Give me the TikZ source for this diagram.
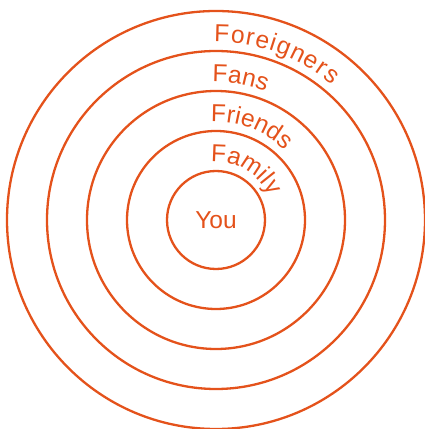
\documentclass[tikz,border=0pt]{standalone}
\usepackage{fontspec}
\setmainfont{Liberation Sans}
\usetikzlibrary{decorations.text}
\definecolor{oc}{HTML}{E4521B}
\begin{document}
\begin{tikzpicture}[x=1pt,y=1pt,
  ring/.style={draw=oc, line width=2.3pt, circle, inner sep=0pt},
  arclabel/.style 2 args={decorate, decoration={text along path, text color=oc,
     text={|\fontsize{24.5}{24.5}\selectfont\kern#1pt|#2}}}]
\useasboundingbox (0,0) rectangle (424,429);
\coordinate (c) at (216,209);
\node[ring, minimum size=98pt, text=oc, font=\fontsize{24.5}{24.5}\selectfont] (you) at (c) {You};
\node[ring, minimum size=178pt] (family) at (c) {};
\node[ring, minimum size=258pt] (friends) at (c) {};
\node[ring, minimum size=338pt] (fans) at (c) {};
\node[ring, minimum size=418pt] (foreigners) at (c) {};
\path[arclabel={0}{Family}] (c) ++(95:58) arc[start angle=95, end angle=-10, radius=58];
\path[arclabel={0}{Friends}] (c) ++(93:98) arc[start angle=93, end angle=-10, radius=98];
\path[arclabel={0}{Fans}] (c) ++(91.5:138) arc[start angle=91.5, end angle=-10, radius=138];
\path[arclabel={1.2}{Foreigners}] (c) ++(91:178) arc[start angle=91, end angle=-10, radius=178];
\end{tikzpicture}
\end{document}
